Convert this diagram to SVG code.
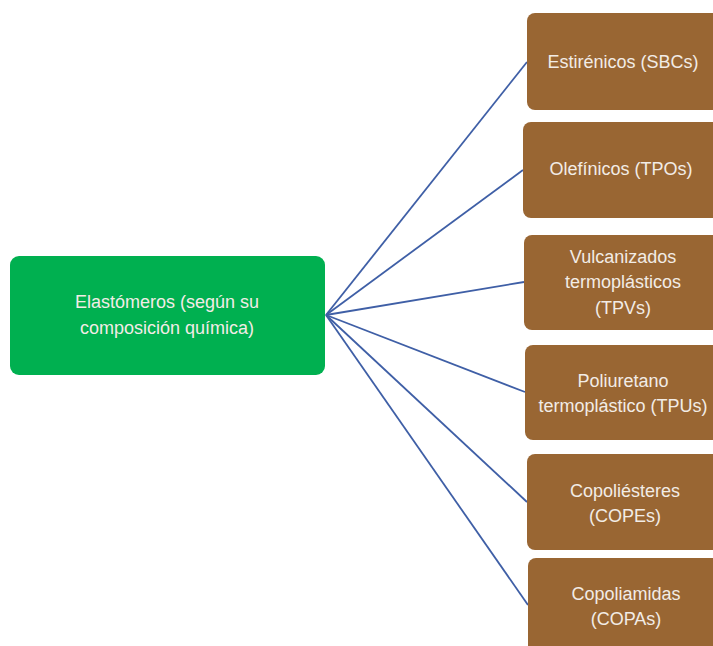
<svg xmlns="http://www.w3.org/2000/svg" width="713" height="646" viewBox="0 0 713 646">
<style>
.root{fill:#00B050}
.leaf{fill:#996633}
text{font-family:"Liberation Sans","Open Sans",sans-serif;font-size:18px;fill:#F2ECE6;text-anchor:middle}
.conn line{stroke:#3F5FA6;stroke-width:1.8}
</style>
<rect width="713" height="646" fill="#FFFFFF"/>
<g class="conn">
<line x1="326" y1="315" x2="527" y2="62"/>
<line x1="326" y1="315" x2="523" y2="170"/>
<line x1="326" y1="315" x2="524" y2="282"/>
<line x1="326" y1="315" x2="525" y2="392"/>
<line x1="326" y1="315" x2="527" y2="502"/>
<line x1="326" y1="315" x2="528" y2="605"/>
</g>
<g id="root">
<rect class="root" x="10" y="256" width="315" height="119" rx="9"/>
<text x="167" y="308">Elastómeros (según su</text>
<text x="167" y="334">composición química)</text>
</g>
<g id="n1">
<rect class="leaf" x="527" y="13" width="200" height="97" rx="8"/>
<text x="623" y="68">Estirénicos (SBCs)</text>
</g>
<g id="n2">
<rect class="leaf" x="523" y="122" width="204" height="96" rx="8"/>
<text x="621" y="175">Olefínicos (TPOs)</text>
</g>
<g id="n3">
<rect class="leaf" x="524" y="235" width="203" height="95" rx="8"/>
<text x="623" y="263">Vulcanizados</text>
<text x="623" y="288">termoplásticos</text>
<text x="623" y="314">(TPVs)</text>
</g>
<g id="n4">
<rect class="leaf" x="525" y="345" width="202" height="95" rx="8"/>
<text x="623" y="387">Poliuretano</text>
<text x="623" y="412">termoplástico (TPUs)</text>
</g>
<g id="n5">
<rect class="leaf" x="527" y="454" width="200" height="96" rx="8"/>
<text x="625" y="497">Copoliésteres</text>
<text x="625" y="522">(COPEs)</text>
</g>
<g id="n6">
<rect class="leaf" x="528" y="558" width="200" height="100" rx="8"/>
<text x="626" y="600">Copoliamidas</text>
<text x="626" y="625">(COPAs)</text>
</g>
</svg>
